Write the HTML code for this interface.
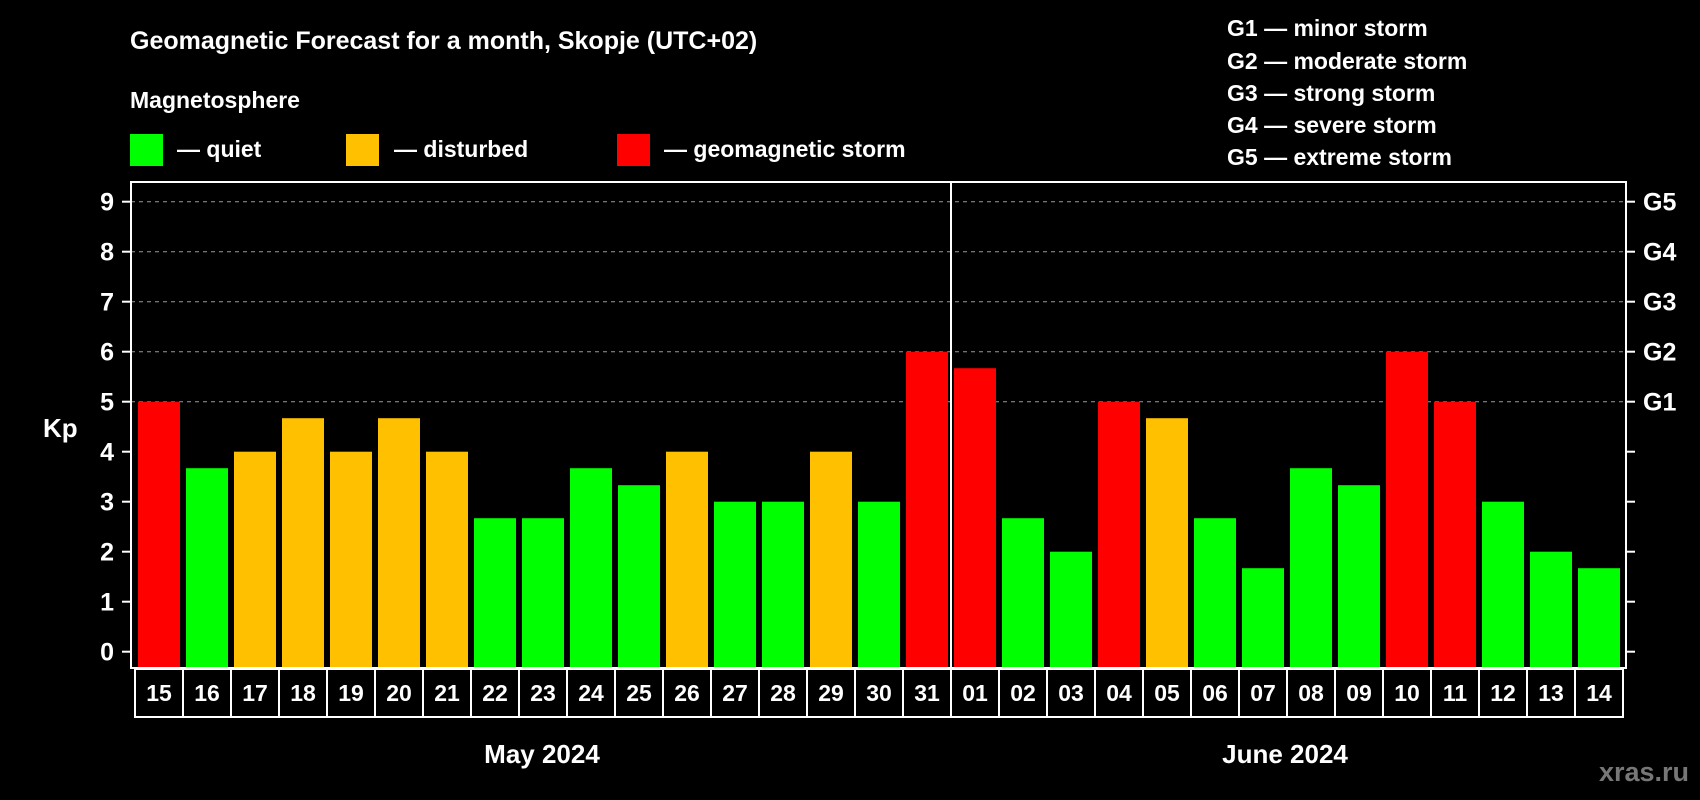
<!DOCTYPE html>
<html><head><meta charset="utf-8"><style>
body{margin:0;background:#000;}
svg{display:block;font-family:"Liberation Sans",Arial,sans-serif;font-weight:bold;}
</style></head><body>
<svg id="chart" width="1700" height="800" viewBox="0 0 1700 800">
<rect width="1700" height="800" fill="#000"/>
<text x="130" y="49" fill="#fff" font-size="25">Geomagnetic Forecast for a month, Skopje (UTC+02)</text>
<text x="130" y="108" fill="#fff" font-size="23">Magnetosphere</text>
<g><rect x="130" y="134" width="33" height="32" fill="#00ff00"/><text x="177" y="157" fill="#fff" font-size="23">— quiet</text></g>
<g><rect x="346" y="134" width="33" height="32" fill="#ffc000"/><text x="394" y="157" fill="#fff" font-size="23">— disturbed</text></g>
<g><rect x="617" y="134" width="33" height="32" fill="#ff0000"/><text x="664" y="157" fill="#fff" font-size="23">— geomagnetic storm</text></g>
<g fill="#fff" font-size="23">
<text x="1227" y="36">G1 — minor storm</text>
<text x="1227" y="69">G2 — moderate storm</text>
<text x="1227" y="101">G3 — strong storm</text>
<text x="1227" y="133">G4 — severe storm</text>
<text x="1227" y="165">G5 — extreme storm</text>
</g>
<text x="43" y="437" fill="#fff" font-size="26">Kp</text>
<g id="grid"></g><g id="bars"></g><g id="axes"></g><g id="xlabels"></g>
<text x="542" y="763" fill="#fff" font-size="26" text-anchor="middle">May 2024</text>
<text x="1285" y="763" fill="#fff" font-size="26" text-anchor="middle">June 2024</text>
<text x="1689" y="781" fill="#777" font-size="27" text-anchor="end">xras.ru</text>
</svg>
<script>
const days=["15","16","17","18","19","20","21","22","23","24","25","26","27","28","29","30","31","01","02","03","04","05","06","07","08","09","10","11","12","13","14"];
const kp=[5,3.67,4,4.67,4,4.67,4,2.67,2.67,3.67,3.33,4,3,3,4,3,6,5.67,2.67,2,5,4.67,2.67,1.67,3.67,3.33,6,5,3,2,1.67];
const yTicks=[0,1,2,3,4,5,6,7,8,9];
const gLabels=["","","","","","G1","G2","G3","G4","G5"];
const NS="http://www.w3.org/2000/svg";
const L=131,R=1626,T=182,B=668,X0=138,P=48,BW=42;
const y=v=>651.7-v*50;
const x=i=>X0+i*P;
function mk(tag,attrs,parent){const e=document.createElementNS(NS,tag);for(const k in attrs)e.setAttribute(k,attrs[k]);parent.appendChild(e);return e;}
const grid=document.getElementById('grid'),bars=document.getElementById('bars'),axes=document.getElementById('axes'),xl=document.getElementById('xlabels');
yTicks.forEach((t,i)=>{
  if(t>=5){const g=mk('line',{x1:L,x2:R,y1:y(t),y2:y(t),stroke:'#999','stroke-width':1,'stroke-dasharray':'4,4'},grid);
  
  }
  const tk=mk('line',{x1:L-9,x2:L,y1:y(t),y2:y(t),stroke:'#fff','stroke-width':2},axes);
  
  
  const tr=mk('line',{x1:R,x2:R+9,y1:y(t),y2:y(t),stroke:'#fff','stroke-width':2},axes);
  
  
  const lb=mk('text',{x:114,y:y(t)+9,fill:'#fff','font-size':25,'text-anchor':'end'},axes);lb.textContent=t;
  
  
  if(gLabels[i]){const g2=mk('text',{x:1643,y:y(t)+9,fill:'#fff','font-size':25},axes);g2.textContent=gLabels[i];
  
  }
});
kp.forEach((v,i)=>{
  const c=v>=5?'#ff0000':(v>=4?'#ffc000':'#00ff00');
  const b=mk('rect',{x:x(i),y:y(v),width:BW,height:B-y(v),fill:c},bars);
  
  
  const cell=mk('rect',{x:135+i*P,y:669,width:P,height:48,fill:'none',stroke:'#fff','stroke-width':2},xl);
  
  
  const t=mk('text',{x:135+i*P+P/2,y:701,fill:'#fff','font-size':23,'text-anchor':'middle'},xl);t.textContent=days[i];
  
  
});
const f=mk('rect',{x:L,y:T,width:R-L,height:B-T,fill:'none',stroke:'#fff','stroke-width':2},axes);


const d=mk('line',{x1:951,x2:951,y1:T,y2:B,stroke:'#fff','stroke-width':2},axes);


</script>
</body></html>
